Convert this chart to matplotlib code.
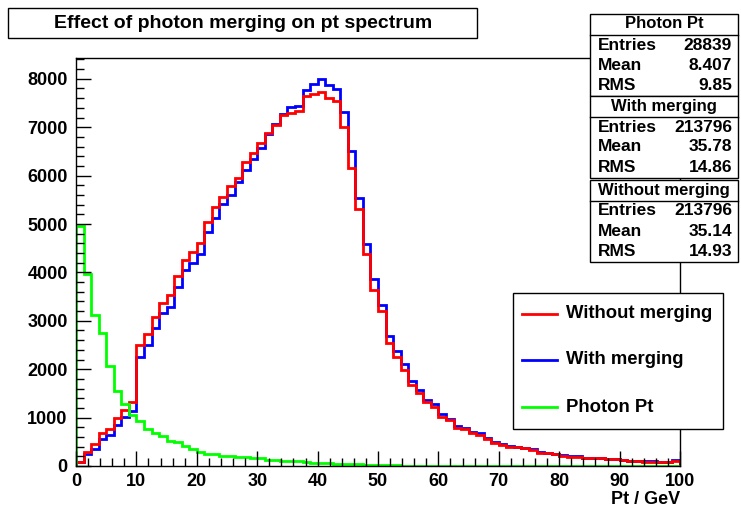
import numpy as np
import matplotlib
matplotlib.use("Agg")
import matplotlib.pyplot as plt
from matplotlib.patches import Rectangle
from matplotlib.lines import Line2D
from matplotlib.ticker import MultipleLocator

plt.rcParams['font.family'] = ['Liberation Sans', 'DejaVu Sans']
plt.rcParams['font.weight'] = 'bold'

# ---------------- data ----------------
x_min, x_max, n_bins = 0, 100, 80

without_merging = [90, 296, 448, 675, 771, 985, 1150, 1329,
                   2493, 2727, 3085, 3361, 3533, 3919, 4256, 4415,
                   4601, 5035, 5345, 5551, 5779, 5957, 6281, 6474,
                   6680, 6873, 7052, 7252, 7287, 7335, 7651, 7686,
                   7721, 7603, 7541, 7011, 6151, 5310, 4386, 3636,
                   3209, 2535, 2259, 1983, 1674, 1515, 1329, 1226,
                   1019, 950, 792, 758, 675, 640, 552, 469,
                   434, 400, 386, 366, 331, 276, 262, 241,
                   214, 193, 193, 165, 158, 158, 138, 138,
                   124, 103, 103, 90, 90, 76, 76, 103]

with_merging = [85, 248, 351, 552, 640, 840, 1012, 1136,
                2259, 2500, 2851, 3155, 3279, 3705, 4043, 4201,
                4380, 4828, 5130, 5419, 5599, 5868, 6116, 6349,
                6564, 6860, 7060, 7273, 7411, 7432, 7769, 7886,
                7990, 7872, 7789, 7320, 6508, 5543, 4590, 3864,
                3326, 2686, 2376, 2107, 1760, 1560, 1364, 1274,
                1067, 971, 833, 792, 709, 688, 579, 503,
                450, 415, 400, 380, 345, 296, 270, 248,
                220, 200, 200, 172, 165, 165, 145, 145,
                130, 110, 110, 96, 96, 82, 82, 124]

photon_pt = [4950, 3970, 3120, 2754, 2072, 1550, 1281, 1054,
             936, 770, 675, 610, 510, 490, 420, 351,
             296, 248, 248, 207, 207, 179, 179, 158,
             158, 124, 124, 96, 96, 96, 76, 55,
             55, 55, 35, 35, 35, 35, 15, 15,
             15, 12, 12, 10, 10, 8, 8, 6,
             6, 5, 5, 4, 4, 3, 3, 3,
             2, 2, 2, 2, 1, 1, 1, 1,
             1, 1, 1, 1, 0, 0, 0, 0,
             0, 0, 0, 0, 0, 0, 0, 0]

stats = [
    ("Photon Pt", "28839", "8.407", "9.85"),
    ("With merging", "213796", "35.78", "14.86"),
    ("Without merging", "213796", "35.14", "14.93"),
]
title = "Effect of photon merging on pt spectrum"
x_label = "Pt / GeV"
legend_labels = ["Without merging", "With merging", "Photon Pt"]

# ---------------- figure ----------------
W, H = 741, 508
fig = plt.figure(figsize=(W / 100, H / 100), dpi=100)

def fx(x):
    return x / W

def fy(y):
    return 1 - y / H

L, R, T, B = 76, 680, 58, 466
ax = fig.add_axes([fx(L), fy(B), fx(R - L), (B - T) / H])

edges = np.linspace(x_min, x_max, n_bins + 1)
ax.stairs(with_merging, edges, color='#0000ff', lw=2, baseline=0)
ax.stairs(without_merging, edges, color='#ff0000', lw=2, baseline=0)
ax.stairs(photon_pt, edges, color='#00ff00', lw=2, baseline=0)

ax.set_xlim(0, 100)
ax.set_ylim(0, 8430)
ax.xaxis.set_major_locator(MultipleLocator(10))
ax.xaxis.set_minor_locator(MultipleLocator(2))
ax.yaxis.set_major_locator(MultipleLocator(1000))
ax.yaxis.set_minor_locator(MultipleLocator(200))
ax.tick_params(which='both', direction='in', top=False, right=False,
               labelsize=13, width=1)
ax.tick_params(which='major', length=11)
ax.tick_params(which='minor', length=5.5)
ax.tick_params(axis='x', pad=5)
ax.tick_params(axis='y', pad=6)
for lab in ax.get_xticklabels() + ax.get_yticklabels():
    lab.set_fontweight('bold')
for sp in ax.spines.values():
    sp.set_linewidth(1)

fig.text(fx(680), fy(500), x_label, ha='right', va='center',
         fontsize=13, fontweight='bold')

# title box
fig.patches.append(Rectangle((fx(8), fy(38)), fx(469), (30) / H,
                             transform=fig.transFigure, fill=True,
                             facecolor='white', edgecolor='black', lw=1))
fig.text(fx(243), fy(23), title, ha='center', va='center',
         fontsize=14, fontweight='bold')

# stat boxes
box_tops = [14, 96, 180]
box_h = 82
for (name, ent, mean, rms), top in zip(stats, box_tops):
    fig.patches.append(Rectangle((fx(590), fy(top + box_h)), fx(148), box_h / H,
                                 transform=fig.transFigure, facecolor='white',
                                 edgecolor='black', lw=1, zorder=5))
    fig.add_artist(Line2D([fx(590), fx(738)], [fy(top + 21)] * 2,
                          color='black', lw=1, zorder=6))
    fig.text(fx(664), fy(top + 10), name, ha='center', va='center',
             fontsize=12, fontweight='bold', zorder=7)
    for i, (k, v) in enumerate([("Entries", ent), ("Mean", mean), ("RMS", rms)]):
        yy = top + 31 + 20 * i
        fig.text(fx(598), fy(yy), k, ha='left', va='center',
                 fontsize=12.5, fontweight='bold', zorder=7)
        fig.text(fx(732), fy(yy), v, ha='right', va='center',
                 fontsize=12.5, fontweight='bold', zorder=7)

# legend box
fig.patches.append(Rectangle((fx(513), fy(429)), fx(210), 136 / H,
                             transform=fig.transFigure, facecolor='white',
                             edgecolor='black', lw=1, zorder=5))
for lab, col, yy in zip(legend_labels, ['#ff0000', '#0000ff', '#00ff00'],
                        [314, 360, 407]):
    fig.add_artist(Line2D([fx(522), fx(557)], [fy(yy)] * 2, color=col, lw=2,
                          zorder=6))
    fig.text(fx(566), fy(yy), lab, ha='left', va='center',
             fontsize=13.3, fontweight='bold', zorder=7)

fig.savefig("out.png", dpi=100)
